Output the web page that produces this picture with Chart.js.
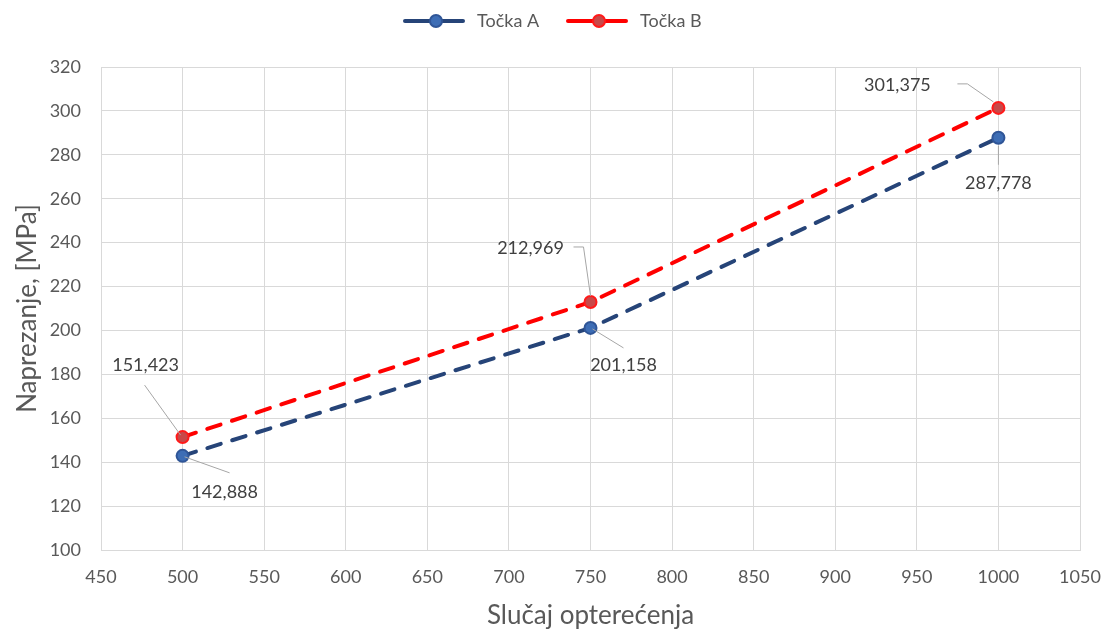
<!DOCTYPE html>
<html lang="hr">
<head>
    <meta charset="UTF-8">
    <title>Naprezanje</title>
    <script src="https://cdn.jsdelivr.net/npm/chart.js"></script>
    <style>
        html, body { margin: 0; padding: 0; background: #ffffff; }
        #wrap { width: 1107px; height: 633px; }
    </style>
</head>
<body>
    <div id="wrap"><canvas id="chart" width="1107" height="633"></canvas></div>

    <script>
    // podaci
    const loadCases = [500, 750, 1000];
    const tockaA = [142.888, 201.158, 287.778];
    const tockaB = [151.423, 212.969, 301.375];
    const seriesNames = ['Točka A', 'Točka B'];

    const FONT = "Lato, 'Open Sans', sans-serif";
    const GREY = '#595959';

    // pomaci oznaka u pikselima: tekst (dx, dy) i točke linije vodilice
    const labelLayout = [
      [ // Točka A
        { tx: 42, ty: 36, lead: [[2, 1], [47, 17]] },
        { tx: 33, ty: 37, lead: [[2, 1], [33, 20]] },
        { tx: 0, ty: 45, lead: [[0, 8], [0, 27]] }
      ],
      [ // Točka B
        { tx: -37, ty: -72, lead: [[-38, -52], [-2, -2]] },
        { tx: -60, ty: -54, lead: [[-17, -55], [-7, -55], [0, -6]] },
        { tx: -101, ty: -23, lead: [[-41, -24], [-31, -24], [-5, -6]] }
      ]
    ];

    const fmt = v => v.toFixed(3).replace('.', ',');

    const dataLabels = {
      id: 'dataLabels',
      afterDatasetsDraw(chart) {
        const ctx = chart.ctx;
        ctx.save();
        chart.data.datasets.forEach((ds, di) => {
          const meta = chart.getDatasetMeta(di);
          meta.data.forEach((pt, i) => {
            const lay = labelLayout[di][i];
            ctx.strokeStyle = '#a6a6a6';
            ctx.lineWidth = 1;
            ctx.beginPath();
            lay.lead.forEach((p, k) => {
              if (k === 0) ctx.moveTo(pt.x + p[0], pt.y + p[1]);
              else ctx.lineTo(pt.x + p[0], pt.y + p[1]);
            });
            ctx.stroke();
            ctx.fillStyle = '#404040';
            ctx.font = "18px " + FONT;
            ctx.textAlign = 'center';
            ctx.textBaseline = 'middle';
            ctx.fillText(fmt(ds.data[i].y), pt.x + lay.tx, pt.y + lay.ty);
          });
        });
        ctx.restore();
      }
    };

    const topLegend = {
      id: 'topLegend',
      afterDraw(chart) {
        const ctx = chart.ctx;
        const items = [
          { x: 405, ds: chart.data.datasets[0] },
          { x: 568, ds: chart.data.datasets[1] }
        ];
        ctx.save();
        items.forEach(it => {
          const y = 21;
          ctx.strokeStyle = it.ds.borderColor;
          ctx.lineWidth = 4;
          ctx.lineCap = 'round';
          ctx.beginPath();
          ctx.moveTo(it.x, y);
          ctx.lineTo(it.x + 58, y);
          ctx.stroke();
          ctx.beginPath();
          ctx.arc(it.x + 31, y, 6, 0, Math.PI * 2);
          ctx.fillStyle = it.ds.pointBackgroundColor;
          ctx.fill();
          ctx.lineWidth = 2;
          ctx.strokeStyle = it.ds.pointBorderColor;
          ctx.stroke();
          ctx.fillStyle = GREY;
          ctx.font = "18px " + FONT;
          ctx.textAlign = 'left';
          ctx.textBaseline = 'middle';
          ctx.fillText(it.ds.label, it.x + 72, y);
        });
        ctx.restore();
      }
    };

    function toPoints(values) {
      return loadCases.map((x, i) => ({ x: x, y: values[i] }));
    }

    new Chart(document.getElementById('chart'), {
      type: 'line',
      data: {
        datasets: [
          {
            label: seriesNames[0],
            data: toPoints(tockaA),
            borderColor: '#264478',
            borderWidth: 4,
            borderDash: [14, 12],
            borderCapStyle: 'round',
            pointRadius: 6,
            pointBackgroundColor: '#3d6db5',
            pointBorderColor: '#2f5597',
            pointBorderWidth: 2
          },
          {
            label: seriesNames[1],
            data: toPoints(tockaB),
            borderColor: '#ff0000',
            borderWidth: 4,
            borderDash: [14, 12],
            borderCapStyle: 'round',
            pointRadius: 6,
            pointBackgroundColor: '#c84848',
            pointBorderColor: '#ff1a1a',
            pointBorderWidth: 2
          }
        ]
      },
      options: {
        responsive: false,
        animation: false,
        layout: { padding: { top: 67, right: 27, left: 0, bottom: 0 } },
        plugins: {
          legend: { display: false },
          tooltip: { enabled: false }
        },
        scales: {
          x: {
            type: 'linear',
            min: 450,
            max: 1050,
            ticks: {
              stepSize: 50, color: GREY, font: { family: FONT, size: 18 }, padding: 16,
              callback: v => String(v)
            },
            grid: { color: '#d9d9d9', drawTicks: false },
            border: { color: '#d9d9d9' },
            title: { display: true, text: 'Slučaj opterećenja', color: GREY, font: { family: FONT, size: 26 }, padding: { top: 2, bottom: 2 } },
            afterFit(scale) {
              scale.height = 83;
              scale.paddingLeft = 0;
              scale.paddingRight = 0;
            }
          },
          y: {
            min: 100,
            max: 320,
            ticks: { stepSize: 20, color: GREY, font: { family: FONT, size: 18 }, padding: 20 },
            grid: { color: '#d9d9d9', drawTicks: false },
            border: { color: '#d9d9d9' },
            title: { display: true, text: 'Naprezanje, [MPa]', color: GREY, font: { family: FONT, size: 26 }, padding: { top: 12, bottom: 4 } },
            afterFit(scale) { scale.width = 101; }
          }
        }
      },
      plugins: [dataLabels, topLegend]
    });
    </script>
</body>
</html>
